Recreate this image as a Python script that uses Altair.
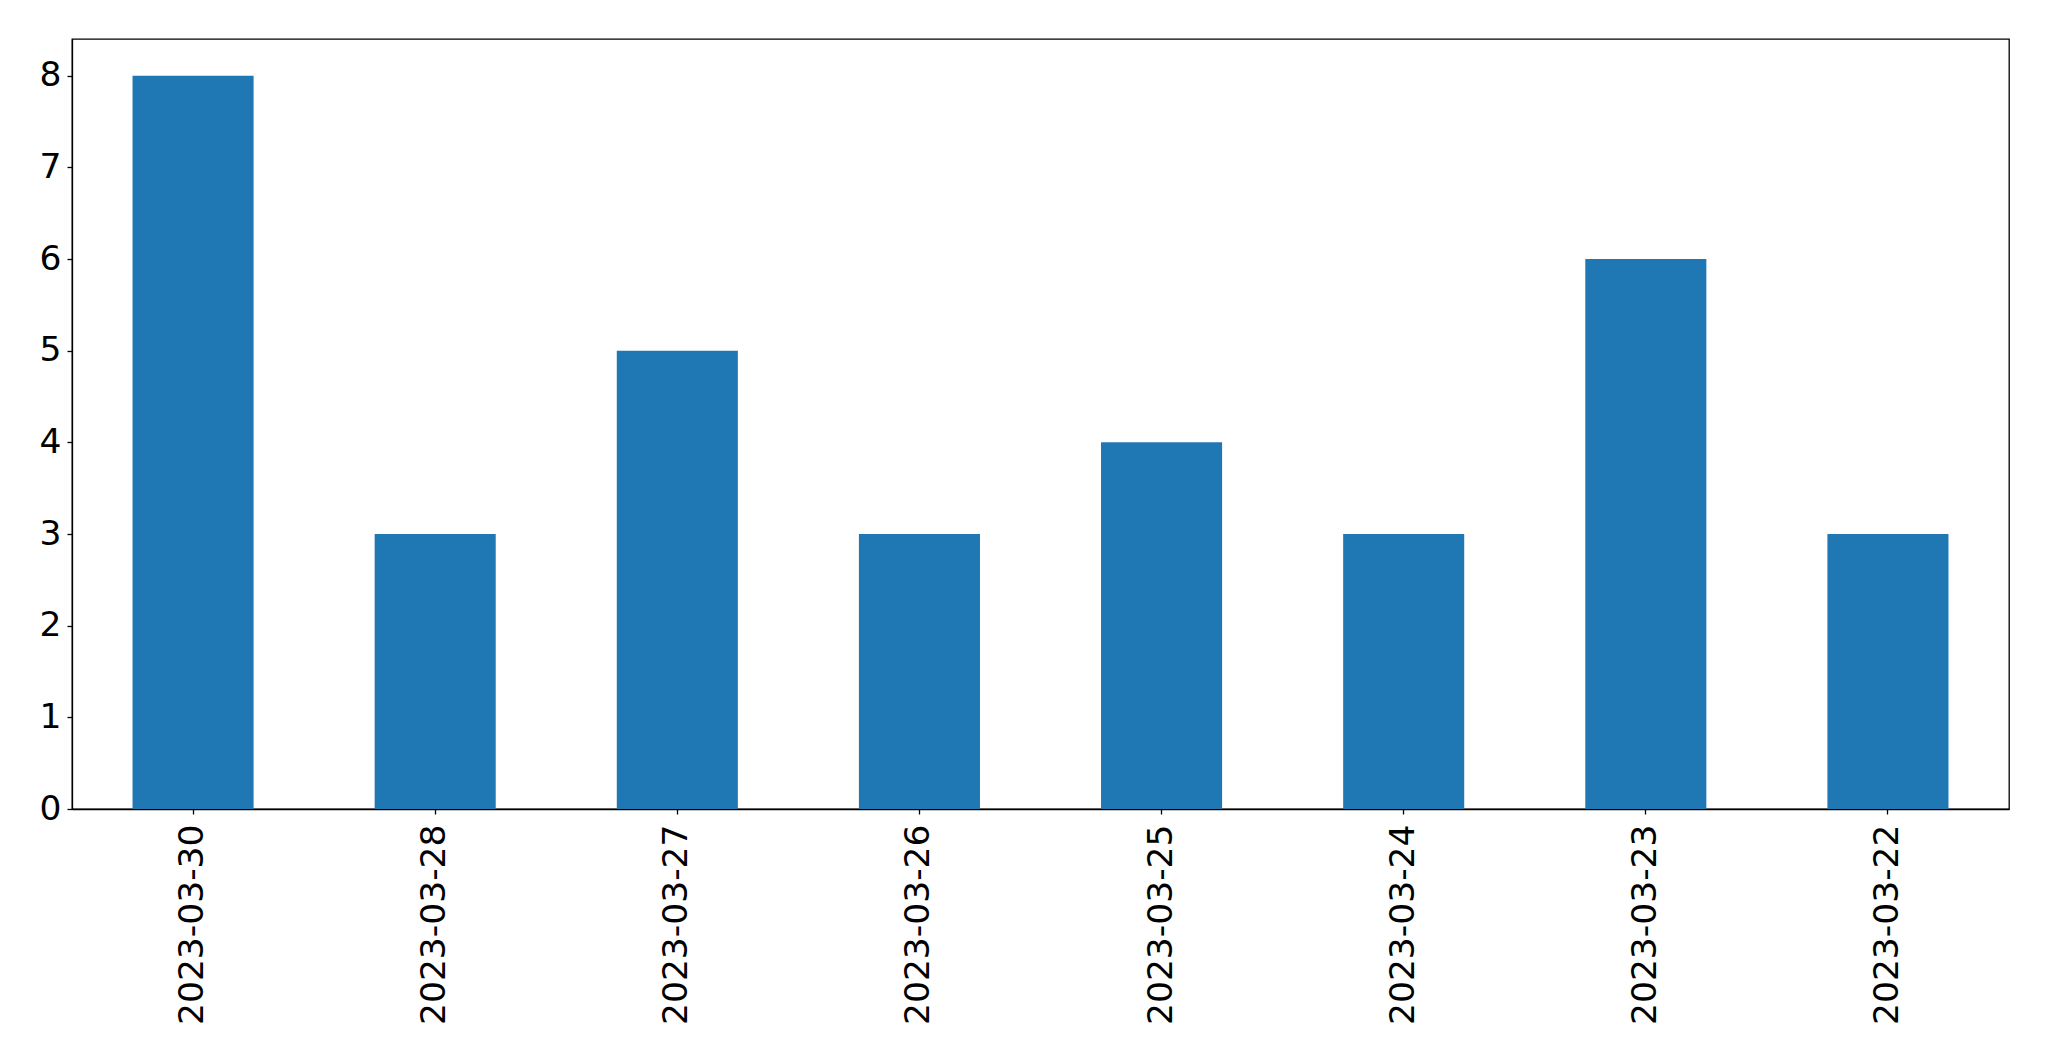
import altair as alt
import pandas as pd

dates = ["2023-03-30", "2023-03-28", "2023-03-27", "2023-03-26",
         "2023-03-25", "2023-03-24", "2023-03-23", "2023-03-22"]
counts = [8, 3, 5, 3, 4, 3, 6, 3]

df = pd.DataFrame({"date": dates, "count": counts})

chart = alt.Chart(df).mark_bar(color="#1f77b4").encode(
    x=alt.X("date:N", sort=None, title=None,
            scale=alt.Scale(paddingInner=0.5, paddingOuter=0.25),
            axis=alt.Axis(labelAngle=270, labelFontSize=34.5, labelFont="DejaVu Sans",
                          labelColor="black", tickColor="black", domainColor="black",
                          tickSize=5, labelPadding=10, labelAlign="right",
                          labelBaseline="middle", labelLimit=0)),
    y=alt.Y("count:Q", title=None,
            scale=alt.Scale(domain=[0, 8.4], nice=False),
            axis=alt.Axis(values=[0, 1, 2, 3, 4, 5, 6, 7, 8], labelFontSize=34.5,
                          labelFont="DejaVu Sans", labelColor="black",
                          tickColor="black", domainColor="black", tickSize=5,
                          labelPadding=6, grid=False, format="d", labelLimit=0)),
).properties(
    width=1937, height=770,
    autosize=alt.AutoSizeParams(type="none"),
    padding={"left": 64, "top": 31, "right": 28, "bottom": 236},
).configure_view(
    stroke="black", strokeWidth=1.3
).configure_axis(domainWidth=1.3, tickWidth=1.3)

chart.save("out.html", embed_options={"renderer": "svg", "actions": False})
